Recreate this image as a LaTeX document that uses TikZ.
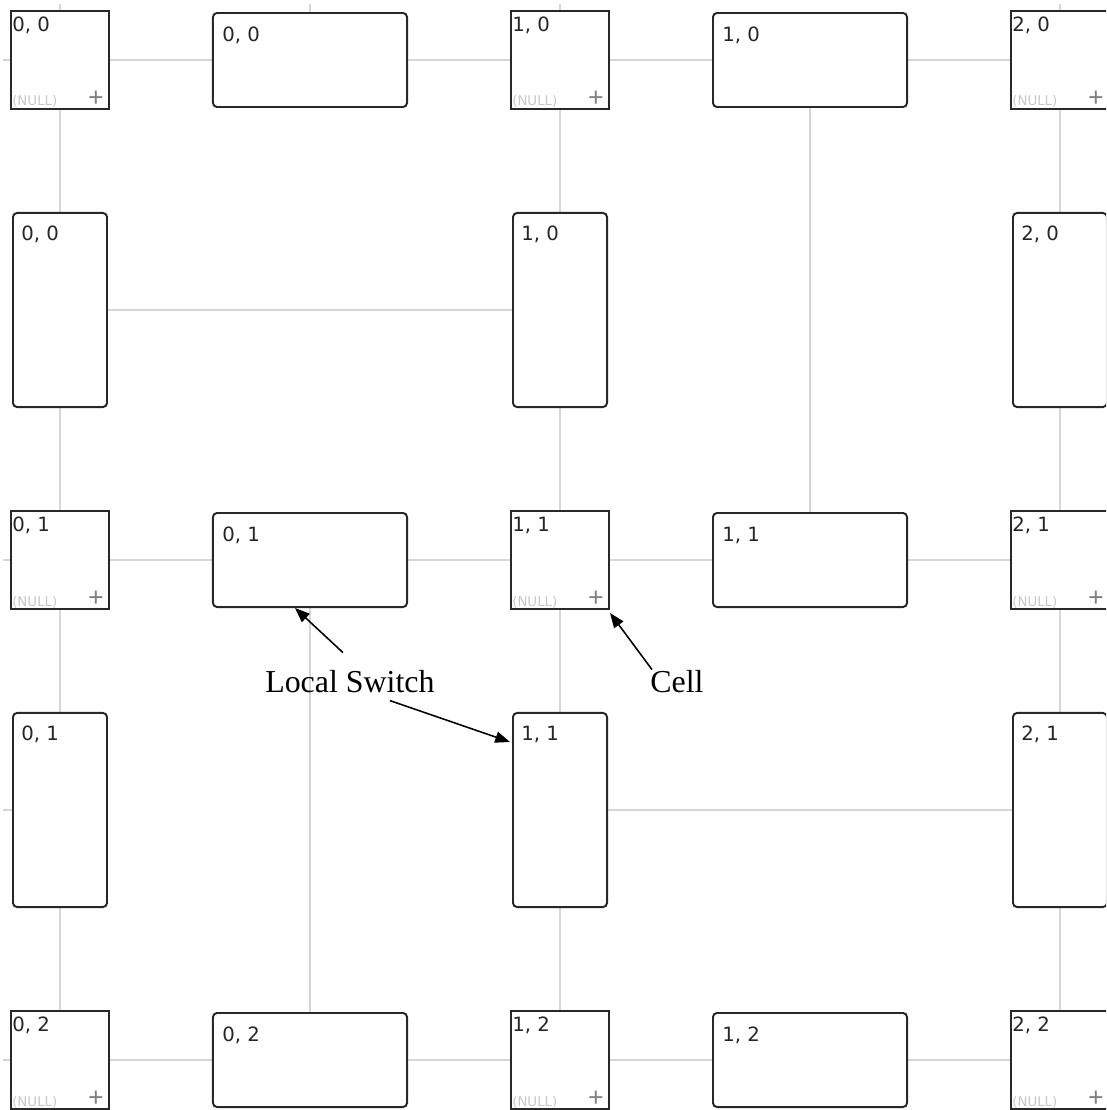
\documentclass[tikz,border=0pt]{standalone}
\usepackage{fontspec}
\setmainfont{Liberation Serif}
\newfontfamily\idfont{DejaVu Sans}
\newfontfamily\uifont{DejaVu Sans}
\newfontfamily\plusfont{Liberation Sans}
\usetikzlibrary{positioning,arrows.meta,backgrounds}
\definecolor{boxline}{RGB}{40,40,40}
\definecolor{wiregray}{RGB}{214,214,214}
\definecolor{nullgray}{RGB}{200,200,200}
\definecolor{plusgray}{RGB}{128,128,128}
\tikzset{
  cell/.style={draw=boxline,line width=1.4pt,minimum width=2.45cm,
    minimum height=2.45cm,inner sep=0pt},
  hswitch/.style={draw=boxline,line width=1.4pt,rounded corners=0.1cm,
    minimum width=4.85cm,minimum height=2.35cm,inner sep=0pt},
  vswitch/.style={hswitch,minimum width=2.35cm,minimum height=4.85cm},
  boxid/.style={font=\idfont\fontsize{14}{14}\selectfont,
    anchor=base west,inner sep=0pt,text=black!85},
  nulltag/.style={font=\uifont\fontsize{9.5}{10}\selectfont,
    text=nullgray,anchor=base west,inner sep=0pt},
  plustag/.style={font=\plusfont\fontsize{19}{19}\selectfont,
    text=plusgray,inner sep=0pt},
  wire/.style={draw=wiregray,line width=1.4pt},
  callout/.style={font=\fontsize{22.7}{24}\selectfont,anchor=base west,
    inner sep=0pt},
  pointer/.style={-{Triangle[length=10.5pt,width=8pt]},line width=1.1pt}
}

\begin{document}
\begin{tikzpicture}[x=0.025cm,y=-0.025cm]
  \useasboundingbox (0,0) rectangle (1106,1110);
  \clip (0,0) rectangle (1106,1110);

  % cells
  \foreach \i in {0,1,2}{
    \foreach \j in {0,1,2}{
      \node[cell] (c\i\j) at (60+500*\i,60+500*\j) {};
      \node[boxid] (c\i\j-id) at ([shift={(2,21)}]c\i\j.north west) {\i, \j};
      \node[nulltag] (c\i\j-null) at ([shift={(2,-4)}]c\i\j.south west) {(NULL)};
      \node[plustag] (c\i\j-plus) at ([shift={(-14,-11)}]c\i\j.south east) {+};
    }
  }

  % local switches, horizontal
  \foreach \i in {0,1}{
    \foreach \j in {0,1,2}{
      \node[hswitch] (h\i\j) at (310+500*\i,60+500*\j) {};
      \node[boxid] (h\i\j-id) at ([shift={(10,29)}]h\i\j.north west) {\i, \j};
    }
  }

  % local switches, vertical
  \foreach \i in {0,1,2}{
    \foreach \j in {0,1}{
      \node[vswitch] (v\i\j) at (60+500*\i,310+500*\j) {};
      \node[boxid] (v\i\j-id) at ([shift={(9,29)}]v\i\j.north west) {\i, \j};
    }
  }

  % wires
  \begin{scope}[on background layer]
    \foreach \j in {0,1,2}{
      \coordinate (w\j) at (3,60+500*\j);
      \draw[wire] (w\j) -- (c0\j.west);
      \foreach \i/\k in {0/1,1/2}{
        \draw[wire] (c\i\j.east) -- (h\i\j.west);
        \draw[wire] (h\i\j.east) -- (c\k\j.west);
      }
    }
    \foreach \i in {0,1,2}{
      \coordinate (n\i) at (60+500*\i,4);
      \draw[wire] (n\i) -- (c\i0.north);
      \foreach \j/\k in {0/1,1/2}{
        \draw[wire] (c\i\j.south) -- (v\i\j.north);
        \draw[wire] (v\i\j.south) -- (c\i\k.north);
      }
    }
    % links between switches
    \coordinate (wv) at (3,810);
    \coordinate (nh) at (310,4);
    \draw[wire] (v00.east) -- (v10.west);
    \draw[wire] (wv) -- (v01.west);
    \draw[wire] (v11.east) -- (v21.west);
    \draw[wire] (nh) -- (h00.north);
    \draw[wire] (h10.south) -- (h11.north);
    \draw[wire] (h01.south) -- (h02.north);
  \end{scope}

  % callouts
  \node[callout] (lsw) at (265,692) {Local Switch};
  \node[callout] (celltxt) at (650,692) {Cell};
  \draw[pointer] ([shift={(-7,-17)}]lsw.north) -- ([shift={(-15,0)}]h01.south);
  \draw[pointer] ([shift={(40,8)}]lsw.south) -- ([shift={(-2,30)}]v11.north west);
  \draw[pointer] ([shift={(2,0)}]celltxt.north west) -- ([shift={(0,3)}]c11.south east);
\end{tikzpicture}
\end{document}
